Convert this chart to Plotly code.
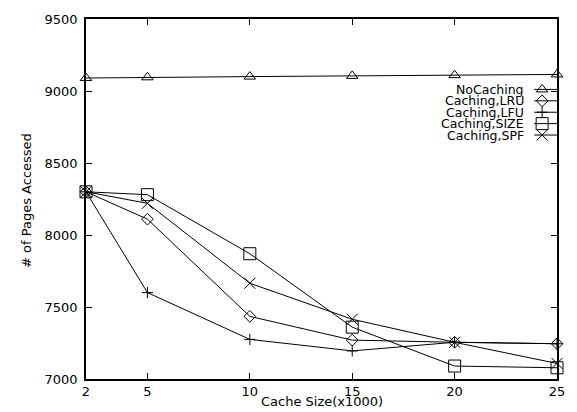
import plotly.graph_objects as go

cache_size = [2, 5, 10, 15, 20, 25]
no_caching = [9090, 9095, 9100, 9105, 9110, 9115]
lru = [8300, 8110, 7435, 7270, 7255, 7245]
lfu = [8300, 7600, 7275, 7195, 7255, 7245]
size_pol = [8300, 8280, 7870, 7360, 7090, 7078]
spf = [8300, 8220, 7665, 7415, 7255, 7108]

names = ["NoCaching", "Caching,LRU", "Caching,LFU", "Caching,SIZE", "Caching,SPF"]
series = [no_caching, lru, lfu, size_pol, spf]
symbols = ["triangle-up-open", "diamond-open", "cross-thin-open", "square-open", "x-thin-open"]
msizes = [10, 9, 8, 12, 11]

x_ticks = [2, 5, 10, 15, 20, 25]
y_ticks = [7000, 7500, 8000, 8500, 9000, 9500]

FONT = "DejaVu Sans"
W, H = 577, 412
L, R, T, B = 86, 16, 16, 33
pw, ph = W - L - R, H - T - B

fig = go.Figure()
for nm, ys, sym, ms in zip(names, series, symbols, msizes):
    fig.add_trace(go.Scatter(
        x=cache_size, y=ys, mode="lines+markers", name=nm,
        line=dict(color="black", width=1),
        marker=dict(symbol=sym, size=ms, color="black", line=dict(color="black", width=1)),
        showlegend=False, cliponaxis=False))

# manual legend (gnuplot style: text right, sample at right)
def px_x(p):
    return (p - L) / pw

def px_y(p):
    return (H - B - p) / ph

row0, step = 87, 11.5
annotations = []
shapes = []
for i, (nm, sym, ms) in enumerate(zip(names, symbols, msizes)):
    yy = px_y(row0 + i * step)
    annotations.append(dict(x=px_x(529), y=yy, xref="paper", yref="paper", text=nm,
                            showarrow=False, xanchor="right", yanchor="middle",
                            borderpad=0,
                            font=dict(family=FONT, size=12.5, color="black")))
    shapes.append(dict(type="line", xref="paper", yref="paper", x0=px_x(538), x1=1.0,
                       y0=yy, y1=yy, line=dict(color="black", width=1)))
    fig.add_trace(go.Scatter(
        x=[px_x(546)], y=[yy], xaxis="x2", yaxis="y2", mode="markers",
        marker=dict(symbol=sym, size=ms, color="black", line=dict(color="black", width=1)),
        showlegend=False, hoverinfo="skip", cliponaxis=False))

annotations.append(dict(x=0.5, y=px_y(402), xref="paper", yref="paper",
                        text="Cache Size(x1000)", showarrow=False, xanchor="center",
                        yanchor="middle", borderpad=0,
                        font=dict(family=FONT, size=13, color="black")))
annotations.append(dict(x=px_x(26), y=px_y(199), xref="paper", yref="paper",
                        text="# of Pages Accessed", showarrow=False, textangle=-90,
                        xanchor="center", yanchor="middle",
                        font=dict(family=FONT, size=13, color="black")))

fig.update_layout(
    width=W, height=H, margin=dict(l=L, r=R, t=T, b=B),
    paper_bgcolor="white", plot_bgcolor="white",
    font=dict(family=FONT, size=13, color="black"),
    annotations=annotations, shapes=shapes,
    xaxis=dict(range=[2, 25], tickvals=x_ticks, ticktext=[str(v) for v in x_ticks],
               ticks="inside", ticklen=6, tickcolor="black", tickwidth=1,
               showline=True, linecolor="black", linewidth=1.5, mirror="ticks",
               showgrid=False, zeroline=False, tickfont=dict(family=FONT, size=13)),
    yaxis=dict(range=[7000, 9500], tickvals=y_ticks, ticktext=[str(v) for v in y_ticks],
               ticks="inside", ticklen=6, tickcolor="black", tickwidth=1,
               showline=True, linecolor="black", linewidth=1.5, mirror="ticks",
               showgrid=False, zeroline=False, tickfont=dict(family=FONT, size=13),
               ticklabelstandoff=4),
    xaxis2=dict(range=[0, 1], overlaying="x", visible=False, fixedrange=True),
    yaxis2=dict(range=[0, 1], overlaying="y", visible=False, fixedrange=True),
)

fig.write_html("out.html")
